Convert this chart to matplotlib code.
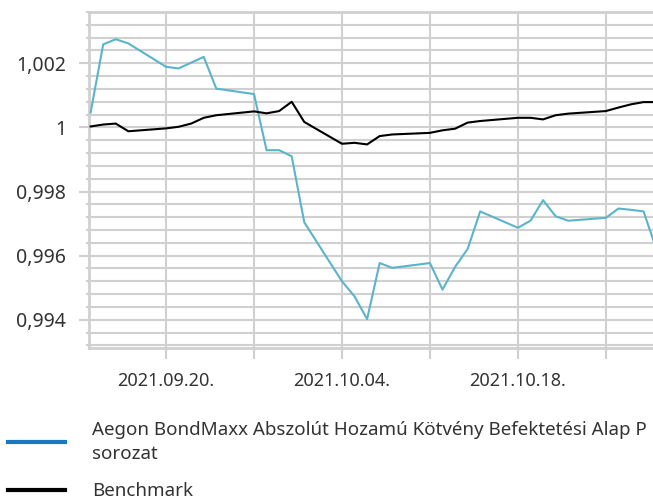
import numpy as np
import pandas as pd
import matplotlib
matplotlib.use("Agg")
import matplotlib.pyplot as plt
import matplotlib.dates as mdates
from matplotlib.ticker import FixedLocator, MultipleLocator, FuncFormatter
from matplotlib.lines import Line2D

plt.rcParams['font.family'] = ['Noto Sans', 'DejaVu Sans']

# dates (business days)
dates = pd.to_datetime([
    "2021-09-14", "2021-09-15", "2021-09-16", "2021-09-17",
    "2021-09-20", "2021-09-21", "2021-09-22", "2021-09-23", "2021-09-24",
    "2021-09-27", "2021-09-28", "2021-09-29", "2021-09-30", "2021-10-01",
    "2021-10-04", "2021-10-05", "2021-10-06", "2021-10-07", "2021-10-08",
    "2021-10-11", "2021-10-12", "2021-10-13", "2021-10-14", "2021-10-15",
    "2021-10-18", "2021-10-19", "2021-10-20", "2021-10-21", "2021-10-22",
    "2021-10-25", "2021-10-26", "2021-10-27", "2021-10-28", "2021-10-29",
])

fund = [
    1.00047, 1.00259, 1.00275, 1.00262,
    1.00189, 1.00184, 1.00202, 1.00220, 1.00121,
    1.00104, 0.99929, 0.99929, 0.99910, 0.99704,
    0.99520, 0.99473, 0.99402, 0.99577, 0.99562,
    0.99577, 0.99494, 0.99565, 0.99621, 0.99738,
    0.99687, 0.99709, 0.99773, 0.99723, 0.99709,
    0.99718, 0.99747, 0.99743, 0.99738, 0.99622,
]

benchmark = [
    1.00003, 1.00009, 1.00012, 0.99988,
    0.99997, 1.00002, 1.00012, 1.00030, 1.00038,
    1.00050, 1.00044, 1.00051, 1.00080, 1.00017,
    0.99949, 0.99952, 0.99947, 0.99973, 0.99978,
    0.99983, 0.99991, 0.99996, 1.00015, 1.00020,
    1.00030, 1.00030, 1.00025, 1.00038, 1.00043,
    1.00051, 1.00062, 1.00072, 1.00079, 1.00079,
]

fund_label = "Aegon BondMaxx Abszolút Hozamú Kötvény Befektetési Alap P\nsorozat"
bench_label = "Benchmark"

label_dates = pd.to_datetime(["2021-09-20", "2021-10-04", "2021-10-18"])
week_dates = pd.to_datetime(["2021-09-27", "2021-10-11", "2021-10-25"])
y_major = [0.994, 0.996, 0.998, 1.0, 1.002]

grid_c = "#d0d0d0"
text_c = "#333333"

fig = plt.figure(figsize=(6.53, 5.0), dpi=100)
ax = fig.add_axes([89 / 653, 1 - 348 / 500, (653 - 89) / 653, (348 - 12) / 500])

ax.plot(dates, fund, color="#5ab4cc", lw=1.5, zorder=3)
ax.plot(dates, benchmark, color="black", lw=1.5, zorder=3)

x0 = mdates.date2num(pd.Timestamp("2021-09-14")) - 0.13
x1 = mdates.date2num(pd.Timestamp("2021-10-28")) + 0.75
ax.set_xlim(x0, x1)
ax.set_ylim(0.99312, 1.0036)

ax.yaxis.set_major_locator(FixedLocator(y_major))
ax.yaxis.set_minor_locator(MultipleLocator(0.0004))
ax.yaxis.set_major_formatter(FuncFormatter(lambda v, p: f"{v:g}".replace(".", ",")))

ax.xaxis.set_major_locator(FixedLocator(mdates.date2num(label_dates)))
ax.xaxis.set_minor_locator(FixedLocator(mdates.date2num(week_dates)))
ax.xaxis.set_major_formatter(mdates.DateFormatter("%Y.%m.%d."))

ax.grid(True, which="both", color=grid_c, lw=1.5)
ax.set_axisbelow(True)

ax.tick_params(axis="y", which="major", length=7.5, width=1.5, color=grid_c,
               labelsize=14, labelcolor=text_c, pad=9)
ax.tick_params(axis="y", which="minor", length=2.5, width=1.5, color=grid_c)
ax.tick_params(axis="x", which="both", length=8, width=1.5, color=grid_c,
               labelsize=13, labelcolor=text_c, pad=9)

ax.spines["right"].set_visible(False)
for s in ["left", "bottom", "top"]:
    ax.spines[s].set_color(grid_c)
    ax.spines[s].set_linewidth(2)

# legend below the plot
handles = [Line2D([], [], color="#1a78c2", lw=3),
           Line2D([], [], color="black", lw=3)]
leg = fig.legend(handles, [fund_label, bench_label], loc="upper left",
                 bbox_to_anchor=(8 / 653, 0.158), frameon=False, fontsize=13.5,
                 handlelength=3.05, handletextpad=1.45, labelspacing=1.05,
                 labelcolor=text_c, borderaxespad=0, borderpad=0)
for t in leg.get_texts():
    t.set_linespacing(1.4)

fig.savefig("out.png", dpi=100)
